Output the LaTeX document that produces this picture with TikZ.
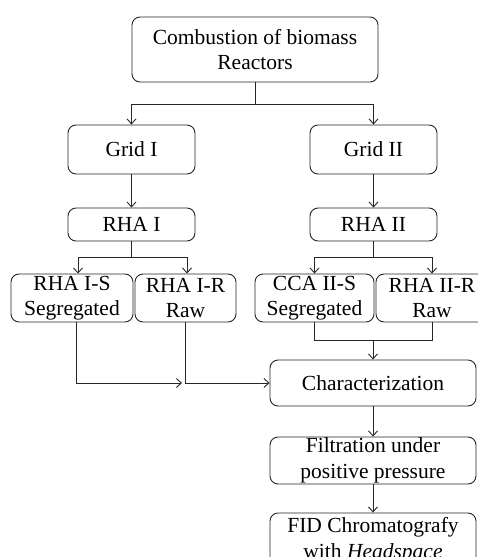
\documentclass[tikz,border=0pt]{standalone}
\usepackage{fontspec}
\setmainfont{Liberation Serif}
\usetikzlibrary{arrows.meta,calc}
\newcommand{\fz}{\fontsize{21.5}{25.5}\selectfont}
\begin{document}
\begin{tikzpicture}[x=1pt,y=-1pt,
  box/.style={draw=black!85, line width=0.9pt, rounded corners=8pt, inner sep=0pt, align=center, font=\fz, text=black},
  conn/.style={draw=black!85, line width=0.9pt},
  arr/.style={conn, -{Straight Barb[length=5pt,width=9pt]}}]
\clip (0,0) rectangle (478,557);
\useasboundingbox (0,0) rectangle (478,557);
\node[box, minimum width=246pt, minimum height=65pt] (top) at (255,49.5) {Combustion of biomass\\Reactors};
\node[box, minimum width=127pt, minimum height=49pt] (g1) at (131.5,149.5) {Grid I};
\node[box, minimum width=127pt, minimum height=49pt] (g2) at (373.5,149.5) {Grid II};
\node[box, minimum width=127pt, minimum height=33pt] (rha1) at (131.5,224.5) {RHA I};
\node[box, minimum width=127pt, minimum height=33pt] (rha2) at (373.5,224.5) {RHA II};
\node[box, minimum width=122pt, minimum height=48pt] (s1) at (72,298) {RHA I-S\\Segregated};
\node[box, minimum width=101pt, minimum height=48pt] (r1) at (185.5,298) {RHA I-R\\Raw};
\node[box, minimum width=119pt, minimum height=48pt] (s2) at (314.5,298) {CCA II-S\\Segregated};
\node[box, minimum width=112pt, minimum height=48pt] (r2) at (432,298) {RHA II-R\\Raw};
\node[box, minimum width=206pt, minimum height=46pt] (char) at (373,383) {Characterization};
\node[box, minimum width=206pt, minimum height=47pt] (filt) at (373,460.5) {Filtration under\\positive pressure};
\node[box, minimum width=206pt, minimum height=54pt] (fid) at (373,540) {FID Chromatografy\\with \textit{Headspace}};
% top split
\coordinate (t1) at ($(top.south)+(0,22)$);
\draw[conn] (top.south) -- (t1);
\draw[arr] (t1) -| (g1.north);
\draw[arr] (t1) -| (g2.north);
\draw[arr] (g1) -- (rha1);
\draw[arr] (g2) -- (rha2);
% RHA I split
\coordinate (a1) at ($(rha1.south)+(0,16)$);
\draw[conn] (rha1.south) -- (a1);
\draw[arr] (a1) -| ([xshift=6pt]s1.north);
\draw[arr] (a1) -| ([xshift=1.5pt]r1.north);
% RHA II split
\coordinate (a2) at ($(rha2.south)+(0,16)$);
\draw[conn] (rha2.south) -- (a2);
\draw[arr] (a2) -| (s2.north);
\draw[arr] (a2) -| (r2.north);
% right merge
\coordinate (m2) at ($(s2.south)+(0,18)$);
\draw[conn] (s2.south) -- (m2) -| (r2.south);
\coordinate (m2c) at (m2 -| char.north);
\draw[arr] (m2c) -- (char.north);
% left lines
\coordinate (l1) at ([xshift=4pt]s1.south);
\coordinate (l1b) at (l1 |- char.west);
\coordinate (l1e) at ([xshift=-3.5pt]r1.south |- char.west);
\draw[arr] (l1) -- (l1b) -- (l1e);
\coordinate (l2) at ([xshift=-0.5pt]r1.south);
\draw[arr] (l2) |- (char.west);
% lower chain
\draw[arr] (char) -- (filt);
\draw[arr] (filt) -- (fid);
\end{tikzpicture}
\end{document}
